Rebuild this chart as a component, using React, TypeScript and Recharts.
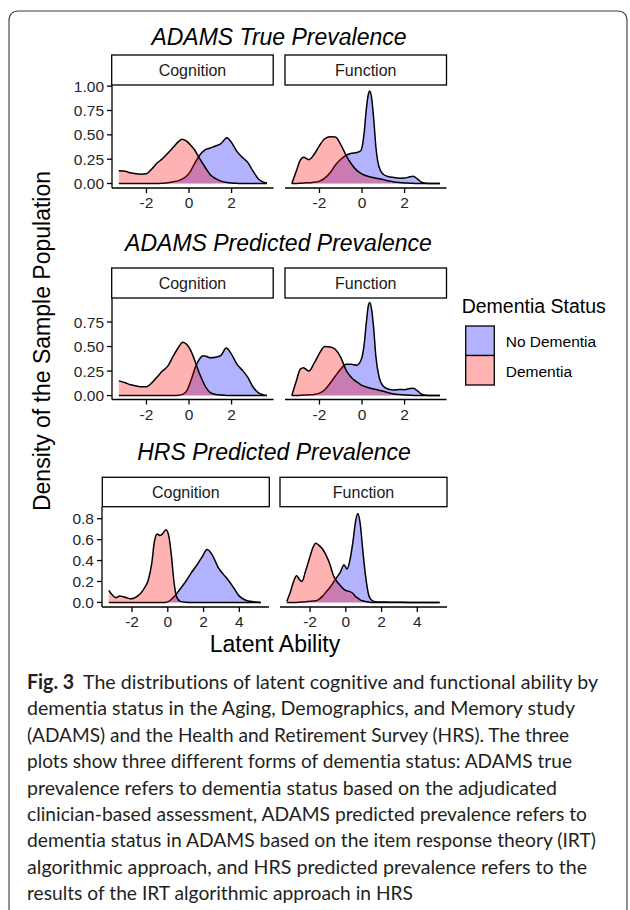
import React from 'react';
import { AreaChart, Area, XAxis, YAxis } from 'recharts';

// ---------- DATA ----------
// ADAMS True Prevalence — Cognition
const adamsTrueCogX = [-3.3, -3.0, -2.75, -2.5, -2.25, -2.0, -1.75, -1.5, -1.25, -1.0, -0.75, -0.5, -0.33, -0.15, 0.05, 0.25, 0.5, 0.75, 1.0, 1.25, 1.5, 1.78, 2.0, 2.25, 2.5, 2.75, 3.0, 3.25, 3.45, 3.66];
const adamsTrueCogNoDem = [0, 0, 0, 0, 0, 0, 0, 0, 0.003, 0.008, 0.018, 0.03, 0.045, 0.07, 0.12, 0.2, 0.29, 0.345, 0.365, 0.385, 0.41, 0.47, 0.42, 0.33, 0.27, 0.22, 0.13, 0.05, 0.02, 0.005];
const adamsTrueCogDem = [0.13, 0.125, 0.11, 0.1, 0.095, 0.1, 0.15, 0.21, 0.255, 0.31, 0.37, 0.43, 0.455, 0.44, 0.4, 0.35, 0.255, 0.17, 0.09, 0.05, 0.025, 0.01, 0.005, 0.002, 0, 0, 0, 0, 0, 0];

// ADAMS True Prevalence — Function
const adamsTrueFunX = [-3.3, -3.1, -2.9, -2.75, -2.5, -2.25, -2.0, -1.75, -1.5, -1.25, -1.0, -0.75, -0.5, -0.25, -0.05, 0.1, 0.2, 0.3, 0.36, 0.45, 0.55, 0.65, 0.8, 1.0, 1.25, 1.5, 1.75, 2.0, 2.25, 2.4, 2.6, 2.8, 3.0, 3.3, 3.66];
const adamsTrueFunNoDem = [0, 0, 0.004, 0.006, 0.008, 0.012, 0.025, 0.055, 0.11, 0.19, 0.25, 0.29, 0.31, 0.318, 0.34, 0.52, 0.76, 0.92, 0.95, 0.88, 0.66, 0.38, 0.17, 0.095, 0.07, 0.062, 0.055, 0.056, 0.07, 0.074, 0.048, 0.013, 0.004, 0.001, 0];
const adamsTrueFunDem = [0, 0.12, 0.24, 0.27, 0.245, 0.3, 0.39, 0.46, 0.48, 0.478, 0.4, 0.29, 0.2, 0.135, 0.105, 0.088, 0.08, 0.072, 0.069, 0.065, 0.06, 0.055, 0.05, 0.04, 0.027, 0.016, 0.01, 0.006, 0.004, 0.002, 0, 0, 0, 0, 0];

// ADAMS Predicted Prevalence — Cognition
const adamsPredCogX = [-3.3, -3.0, -2.75, -2.5, -2.25, -2.0, -1.75, -1.5, -1.25, -1.0, -0.75, -0.5, -0.3, -0.1, 0.1, 0.3, 0.5, 0.65, 0.8, 1.0, 1.25, 1.5, 1.75, 2.0, 2.25, 2.5, 2.75, 3.0, 3.25, 3.45, 3.66];
const adamsPredCogNoDem = [0, 0, 0, 0, 0, 0, 0, 0, 0, 0, 0, 0.003, 0.012, 0.05, 0.16, 0.29, 0.375, 0.405, 0.4, 0.385, 0.39, 0.41, 0.485, 0.42, 0.32, 0.26, 0.19, 0.09, 0.03, 0.01, 0.002];
const adamsPredCogDem = [0.15, 0.13, 0.11, 0.1, 0.09, 0.09, 0.13, 0.19, 0.25, 0.3, 0.4, 0.49, 0.545, 0.52, 0.45, 0.34, 0.22, 0.145, 0.08, 0.03, 0.012, 0.005, 0.002, 0, 0, 0, 0, 0, 0, 0, 0];

// ADAMS Predicted Prevalence — Function
const adamsPredFunX = [-3.3, -3.1, -2.9, -2.75, -2.5, -2.25, -2.0, -1.75, -1.5, -1.25, -1.0, -0.75, -0.5, -0.25, -0.05, 0.1, 0.2, 0.3, 0.36, 0.45, 0.55, 0.65, 0.8, 1.0, 1.25, 1.5, 1.75, 2.0, 2.25, 2.4, 2.6, 2.8, 3.0, 3.3, 3.66];
const adamsPredFunNoDem = [0, 0, 0.003, 0.005, 0.008, 0.012, 0.025, 0.06, 0.125, 0.2, 0.27, 0.32, 0.32, 0.31, 0.36, 0.52, 0.74, 0.92, 0.95, 0.88, 0.68, 0.4, 0.19, 0.095, 0.065, 0.058, 0.062, 0.06, 0.072, 0.074, 0.05, 0.014, 0.004, 0.001, 0];
const adamsPredFunDem = [0, 0.14, 0.27, 0.285, 0.25, 0.33, 0.43, 0.5, 0.495, 0.47, 0.39, 0.26, 0.185, 0.14, 0.11, 0.095, 0.088, 0.08, 0.077, 0.072, 0.066, 0.062, 0.055, 0.045, 0.028, 0.016, 0.01, 0.006, 0.004, 0.002, 0, 0, 0, 0, 0];

// HRS Predicted Prevalence — Cognition
const hrsCogX = [-3.3, -3.1, -2.9, -2.7, -2.5, -2.3, -2.1, -1.9, -1.7, -1.5, -1.3, -1.1, -0.9, -0.75, -0.6, -0.45, -0.3, -0.1, 0.05, 0.2, 0.35, 0.5, 0.7, 1.0, 1.3, 1.6, 1.9, 2.2, 2.5, 2.8, 3.1, 3.4, 3.7, 4.0, 4.3, 4.6, 4.9, 5.2];
const hrsCogNoDem = [0, 0, 0, 0, 0, 0, 0, 0, 0, 0, 0, 0, 0, 0, 0, 0, 0, 0.002, 0.01, 0.03, 0.055, 0.085, 0.13, 0.2, 0.28, 0.35, 0.43, 0.505, 0.45, 0.34, 0.27, 0.21, 0.135, 0.06, 0.025, 0.01, 0.003, 0];
const hrsCogDem = [0.115, 0.07, 0.045, 0.06, 0.055, 0.045, 0.035, 0.04, 0.06, 0.09, 0.14, 0.21, 0.37, 0.58, 0.655, 0.64, 0.655, 0.695, 0.64, 0.45, 0.19, 0.05, 0.01, 0.002, 0, 0, 0, 0, 0, 0, 0, 0, 0, 0, 0, 0, 0, 0];

// HRS Predicted Prevalence — Function
const hrsFunX = [-3.3, -3.1, -2.9, -2.75, -2.6, -2.45, -2.25, -2.0, -1.85, -1.68, -1.5, -1.3, -1.1, -0.9, -0.7, -0.5, -0.3, -0.1, 0.07, 0.2, 0.4, 0.55, 0.68, 0.8, 0.95, 1.1, 1.3, 1.5, 1.8, 2.2, 2.6, 3.0, 3.5, 4.0, 4.5, 5.0, 5.25];
const hrsFunNoDem = [0, 0, 0, 0, 0.002, 0.004, 0.006, 0.01, 0.013, 0.016, 0.03, 0.06, 0.1, 0.14, 0.19, 0.24, 0.29, 0.36, 0.32, 0.38, 0.58, 0.78, 0.85, 0.76, 0.5, 0.26, 0.06, 0.015, 0.005, 0.003, 0.002, 0.001, 0, 0, 0, 0, 0];
const hrsFunDem = [0.01, 0.1, 0.21, 0.255, 0.22, 0.2, 0.3, 0.44, 0.52, 0.565, 0.545, 0.51, 0.45, 0.37, 0.26, 0.2, 0.16, 0.125, 0.11, 0.105, 0.085, 0.055, 0.04, 0.025, 0.015, 0.008, 0.003, 0, 0, 0, 0, 0, 0, 0, 0, 0, 0];

// Tick labels / categories
const adamsXTicks = [-2, 0, 2];
const hrsXTicks = [-2, 0, 2, 4];
const adamsTrueYTicks = [0, 0.25, 0.5, 0.75, 1.0];
const adamsPredYTicks = [0, 0.25, 0.5, 0.75];
const hrsYTicks = [0, 0.2, 0.4, 0.6, 0.8];
const panelTitles = ['ADAMS True Prevalence', 'ADAMS Predicted Prevalence', 'HRS Predicted Prevalence'];
const facetLabels = ['Cognition', 'Function'];
const seriesNames = ['No Dementia', 'Dementia'];
const legendTitle = 'Dementia Status';
const yAxisTitle = 'Density of the Sample Population';
const xAxisTitle = 'Latent Ability';
const captionLines = [
  'dementia status in the Aging, Demographics, and Memory study',
  '(ADAMS) and the Health and Retirement Survey (HRS). The three',
  'plots show three different forms of dementia status: ADAMS true',
  'prevalence refers to dementia status based on the adjudicated',
  'clinician-based assessment, ADAMS predicted prevalence refers to',
  'dementia status in ADAMS based on the item response theory (IRT)',
  'algorithmic approach, and HRS predicted prevalence refers to the',
  'results of the IRT algorithmic approach in HRS',
];
const captionFirst = 'The distributions of latent cognitive and functional ability by';

// ---------- STYLE ----------
const FONT = '"Liberation Sans", Arial, Helvetica, sans-serif';
const CAP_FONT = 'Lato, "Open Sans", sans-serif';
const BLUE = '#0000FF';
const RED = '#FF0000';
const TICK_COLOR = '#262626';

type PanelProps = {
  plotLeft: number;
  plotTop: number;
  plotW: number;
  plotH: number;
  xs: number[];
  noDem: number[];
  dem: number[];
  xDomain: [number, number];
  xTicks: number[];
  yDomain: [number, number];
  yTicks: number[];
  showY: boolean;
  yDigits: number;
};

function Panel(p: PanelProps) {
  const yW = p.showY ? 60 : 0;
  const mt = 14;
  const mr = 10;
  const xH = 30;
  const data = p.xs.map((x, i) => ({ x, noDem: p.noDem[i], dem: p.dem[i] }));
  return (
    <div style={{ position: 'absolute', left: p.plotLeft - yW, top: p.plotTop - mt }}>
      <AreaChart
        width={yW + p.plotW + mr}
        height={mt + p.plotH + xH}
        data={data}
        margin={{ top: mt, right: mr, bottom: 0, left: 0 }}
      >
        <XAxis
          type="number"
          dataKey="x"
          domain={p.xDomain}
          ticks={p.xTicks}
          interval={0}
          allowDataOverflow
          height={xH}
          tickSize={5}
          tickMargin={4}
          axisLine={{ stroke: '#000', strokeWidth: 1.3 }}
          tickLine={{ stroke: '#000', strokeWidth: 1.3 }}
          tick={{ fill: TICK_COLOR, fontSize: 15.5, fontFamily: FONT }}
        />
        <YAxis
          type="number"
          domain={p.yDomain}
          ticks={p.yTicks}
          interval={0}
          allowDataOverflow
          hide={!p.showY}
          width={yW}
          tickSize={5}
          tickMargin={3}
          axisLine={{ stroke: '#000', strokeWidth: 1.3 }}
          tickLine={{ stroke: '#000', strokeWidth: 1.3 }}
          tick={{ fill: TICK_COLOR, fontSize: 15.5, fontFamily: FONT }}
          tickFormatter={(v: number) => v.toFixed(p.yDigits)}
        />
        <Area
          dataKey="noDem"
          type="monotone"
          fill={BLUE}
          fillOpacity={0.3}
          stroke="#000"
          strokeWidth={1.5}
          dot={false}
          activeDot={false}
          isAnimationActive={false}
        />
        <Area
          dataKey="dem"
          type="monotone"
          fill={RED}
          fillOpacity={0.3}
          stroke="#000"
          strokeWidth={1.5}
          dot={false}
          activeDot={false}
          isAnimationActive={false}
        />
      </AreaChart>
    </div>
  );
}

type RowLayout = {
  title: string;
  titleX: number;
  titleBaseline: number;
  stripTop: number;
  stripH: number;
  plotTop: number;
  plotH: number;
  cogLeft: number;
  funLeft: number;
  plotW: number;
};

const rowA: RowLayout = { title: panelTitles[0], titleX: 279, titleBaseline: 45, stripTop: 55, stripH: 30, plotTop: 85, plotH: 103, cogLeft: 111.7, funLeft: 285, plotW: 161.5 };
const rowB: RowLayout = { title: panelTitles[1], titleX: 278.5, titleBaseline: 250.7, stripTop: 268, stripH: 30, plotTop: 298, plotH: 101.5, cogLeft: 111.7, funLeft: 285, plotW: 161.5 };
const rowC: RowLayout = { title: panelTitles[2], titleX: 274, titleBaseline: 460, stripTop: 477.3, stripH: 29.4, plotTop: 506.7, plotH: 100, cogLeft: 102.3, funLeft: 280, plotW: 167 };

function RowDecor({ r }: { r: RowLayout }) {
  const lefts = [r.cogLeft, r.funLeft];
  return (
    <g>
      <text x={r.titleX} y={r.titleBaseline} textAnchor="middle" fontStyle="italic" fontSize={23} fontFamily={FONT} fill="#000">
        {r.title}
      </text>
      {lefts.map((l, i) => (
        <g key={i}>
          <rect x={l} y={r.stripTop} width={r.plotW} height={r.stripH} fill="#fff" stroke="#000" strokeWidth={1.3} />
          <text x={l + r.plotW / 2} y={r.stripTop + r.stripH / 2 + 6.3} textAnchor="middle" fontSize={16} fontFamily={FONT} fill="#1a1a1a">
            {facetLabels[i]}
          </text>
        </g>
      ))}
    </g>
  );
}

const captionRight = [598, 575, 569, 572, 557, 587, 596, 587, 413];
const capStyle: React.CSSProperties = { fontVariantLigatures: 'none', fontFeatureSettings: '"liga" 0, "clig" 0, "dlig" 0' };

export default function App() {
  const adamsDomain: [number, number] = [-3.62, 3.97];
  const hrsDomain: [number, number] = [-3.68, 5.66];
  return (
    <div style={{ position: 'absolute', left: 0, top: 0, width: 630, height: 910, background: '#fff', overflow: 'hidden' }}>
      <svg width={630} height={910} style={{ position: 'absolute', left: 0, top: 0 }}>
        <path d="M 9 910 L 9 21 Q 9 11 19 11 L 617 11 Q 627 11 627 21 L 627 910" fill="none" stroke="#3a3a3a" strokeWidth={1.1} />
        <RowDecor r={rowA} />
        <RowDecor r={rowB} />
        <RowDecor r={rowC} />
        <text transform="translate(50,341) rotate(-90)" textAnchor="middle" fontSize={23} fontFamily={FONT} fill="#000">
          {yAxisTitle}
        </text>
        <text x={275} y={651.5} textAnchor="middle" fontSize={23} fontFamily={FONT} fill="#000">
          {xAxisTitle}
        </text>
        {/* legend */}
        <text x={461.7} y={313.3} fontSize={19.5} fontFamily={FONT} fill="#000">{legendTitle}</text>
        <rect x={465.7} y={326} width={28.6} height={29.5} fill="#B3B3FF" stroke="#000" strokeWidth={1.3} />
        <rect x={465.7} y={355.5} width={28.6} height={29.5} fill="#FFB3B3" stroke="#000" strokeWidth={1.3} />
        <text x={505.7} y={346.7} fontSize={15.5} fontFamily={FONT} fill="#000">{seriesNames[0]}</text>
        <text x={505.7} y={376.7} fontSize={15.5} fontFamily={FONT} fill="#000">{seriesNames[1]}</text>
        {/* caption */}
        <text x={27} y={689} fontSize={20} fontFamily={CAP_FONT} fill="#231f20" style={capStyle} textLength={captionRight[0] - 27} lengthAdjust="spacingAndGlyphs">
          <tspan fontWeight="bold">Fig. 3</tspan>
          <tspan dx={9}>{captionFirst}</tspan>
        </text>
        {captionLines.map((line, i) => (
          <text key={i} x={27} y={689 + 26.4 * (i + 1)} fontSize={20} fontFamily={CAP_FONT} fill="#231f20" style={capStyle} textLength={captionRight[i + 1] - 27} lengthAdjust="spacingAndGlyphs">
            {line}
          </text>
        ))}
      </svg>

      <Panel plotLeft={rowA.cogLeft} plotTop={rowA.plotTop} plotW={rowA.plotW} plotH={rowA.plotH} xs={adamsTrueCogX} noDem={adamsTrueCogNoDem} dem={adamsTrueCogDem} xDomain={adamsDomain} xTicks={adamsXTicks} yDomain={[-0.046, 1.012]} yTicks={adamsTrueYTicks} showY yDigits={2} />
      <Panel plotLeft={rowA.funLeft} plotTop={rowA.plotTop} plotW={rowA.plotW} plotH={rowA.plotH} xs={adamsTrueFunX} noDem={adamsTrueFunNoDem} dem={adamsTrueFunDem} xDomain={adamsDomain} xTicks={adamsXTicks} yDomain={[-0.046, 1.012]} yTicks={adamsTrueYTicks} showY={false} yDigits={2} />

      <Panel plotLeft={rowB.cogLeft} plotTop={rowB.plotTop} plotW={rowB.plotW} plotH={rowB.plotH} xs={adamsPredCogX} noDem={adamsPredCogNoDem} dem={adamsPredCogDem} xDomain={adamsDomain} xTicks={adamsXTicks} yDomain={[-0.04, 0.995]} yTicks={adamsPredYTicks} showY yDigits={2} />
      <Panel plotLeft={rowB.funLeft} plotTop={rowB.plotTop} plotW={rowB.plotW} plotH={rowB.plotH} xs={adamsPredFunX} noDem={adamsPredFunNoDem} dem={adamsPredFunDem} xDomain={adamsDomain} xTicks={adamsXTicks} yDomain={[-0.04, 0.995]} yTicks={adamsPredYTicks} showY={false} yDigits={2} />

      <Panel plotLeft={rowC.cogLeft} plotTop={rowC.plotTop} plotW={rowC.plotW} plotH={rowC.plotH} xs={hrsCogX} noDem={hrsCogNoDem} dem={hrsCogDem} xDomain={hrsDomain} xTicks={hrsXTicks} yDomain={[-0.044, 0.912]} yTicks={hrsYTicks} showY yDigits={1} />
      <Panel plotLeft={rowC.funLeft} plotTop={rowC.plotTop} plotW={rowC.plotW} plotH={rowC.plotH} xs={hrsFunX} noDem={hrsFunNoDem} dem={hrsFunDem} xDomain={hrsDomain} xTicks={hrsXTicks} yDomain={[-0.044, 0.912]} yTicks={hrsYTicks} showY={false} yDigits={1} />
    </div>
  );
}
